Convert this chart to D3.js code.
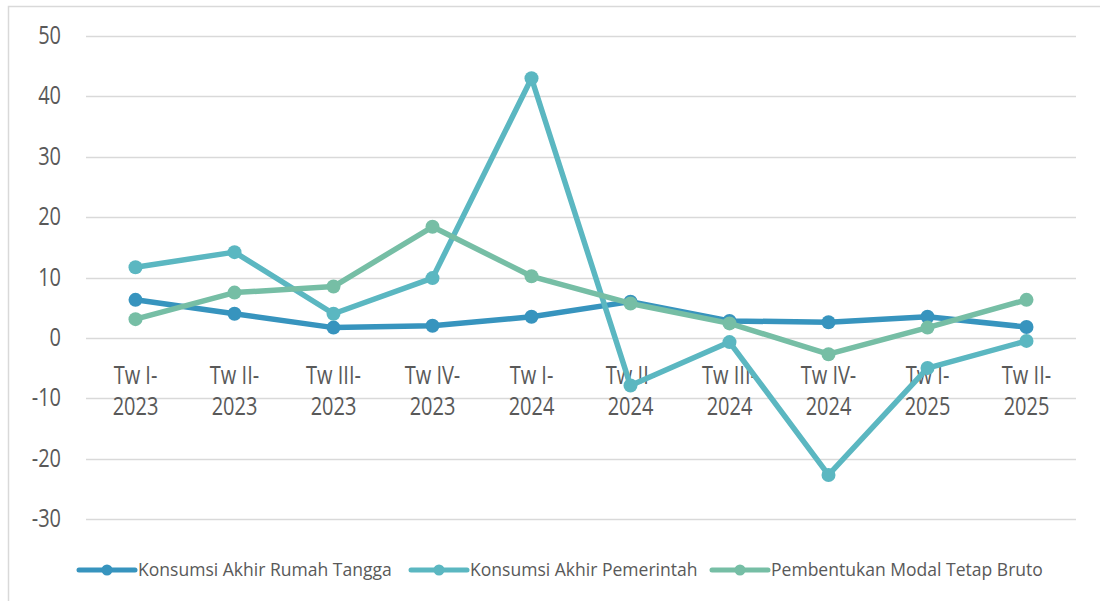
<!DOCTYPE html>
<html>
<head>
<meta charset="utf-8">
<script src="https://cdn.jsdelivr.net/npm/d3@7"></script>
<style>
  html, body { margin: 0; padding: 0; background: #fff; }
  svg { display: block; font-family: "Open Sans", sans-serif; }
</style>
</head>
<body>
<svg id="chart" width="1100" height="601"></svg>
<script>
const categories = ["Tw I-2023","Tw II-2023","Tw III-2023","Tw IV-2023","Tw I-2024","Tw II-2024","Tw III-2024","Tw IV-2024","Tw I-2025","Tw II-2025"];
const rumahTangga = [6.3, 4.0, 1.7, 2.0, 3.5, 6.0, 2.8, 2.6, 3.5, 1.8];
const pemerintah = [11.7, 14.2, 4.0, 9.9, 43.0, -7.9, -0.7, -22.7, -5.0, -0.5];
const pmtb = [3.1, 7.5, 8.5, 18.4, 10.2, 5.7, 2.4, -2.7, 1.7, 6.3];
const seriesNames = ["Konsumsi Akhir Rumah Tangga", "Konsumsi Akhir Pemerintah", "Pembentukan Modal Tetap Bruto"];
const yTicks = [-30, -20, -10, 0, 10, 20, 30, 40, 50];

const colors = ["#3794be", "#5bb7c1", "#76bea5"];
const series = [rumahTangga, pemerintah, pmtb];

const svg = d3.select("#chart");

// outer border
svg.append("rect").attr("x", 8.5).attr("y", 6.5).attr("width", 1100).attr("height", 600)
  .attr("fill", "none").attr("stroke", "#d9d9d9").attr("stroke-width", 1.5);

const x = d3.scaleBand().domain(categories).range([86, 1076]);
const y = d3.scaleLinear().domain([-30, 50]).range([519, 36]);

// gridlines
svg.append("g").selectAll("line").data(yTicks).join("line")
  .attr("x1", 86).attr("x2", 1076)
  .attr("y1", d => Math.round(y(d)) + 0.5).attr("y2", d => Math.round(y(d)) + 0.5)
  .attr("stroke", "#d9d9d9").attr("stroke-width", 1.5);

// y labels
svg.append("g").selectAll("text").data(yTicks).join("text")
  .attr("transform", d => `translate(61,${y(d) + 8}) scale(0.8,1)`)
  .attr("text-anchor", "end")
  .attr("font-size", 25).attr("fill", "#595959")
  .text(d => d);

// x labels (two lines in one text)
const xl = svg.append("g").selectAll("text").data(categories).join("text")
  .attr("transform", d => `translate(${x(d) + x.bandwidth() / 2},0) scale(0.8,1)`)
  .attr("text-anchor", "middle")
  .attr("font-size", 25).attr("fill", "#595959");
xl.append("tspan").attr("x", 0).attr("y", 384).text(d => d.split("-")[0] + "-");
xl.append("tspan").attr("x", 0).attr("y", 415).text(d => d.split("-")[1]);

// lines
const line = d3.line()
  .x((d, i) => x(categories[i]) + x.bandwidth() / 2)
  .y(d => y(d));

series.forEach((s, k) => {
  const g = svg.append("g");
  g.append("path").datum(s).attr("d", line)
    .attr("fill", "none").attr("stroke", colors[k]).attr("stroke-width", 5.5)
    .attr("stroke-linejoin", "round");
  g.selectAll("circle").data(s).join("circle")
    .attr("cx", (d, i) => x(categories[i]) + x.bandwidth() / 2)
    .attr("cy", d => y(d))
    .attr("r", 7).attr("fill", colors[k]);
});

// legend
const legendX = [79, 411, 712];
const leg = svg.append("g").selectAll("g").data(seriesNames).join("g")
  .attr("transform", (d, i) => `translate(${legendX[i]},570)`);
leg.append("line").attr("x1", 0).attr("x2", 56).attr("y1", 0).attr("y2", 0)
  .attr("stroke", (d, i) => colors[i]).attr("stroke-width", 5).attr("stroke-linecap", "round");
leg.append("circle").attr("cx", 28).attr("cy", 0).attr("r", 5.5).attr("fill", (d, i) => colors[i]);
leg.append("text").attr("transform", "translate(59,6) scale(0.975,1)")
  .attr("font-size", 18).attr("fill", "#595959").text(d => d);
</script>
</body>
</html>
